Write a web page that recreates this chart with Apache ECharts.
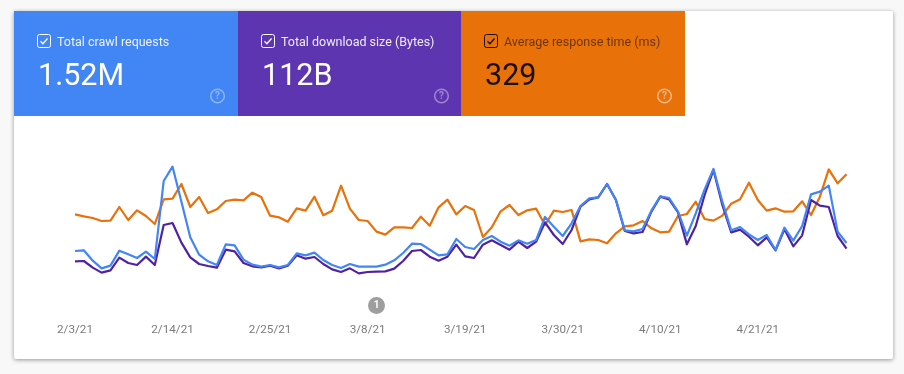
<!DOCTYPE html>
<html><head><meta charset="utf-8">
<style>html,body{margin:0;padding:0;background:#f8f8f8}#c{width:904px;height:374px}</style>
<script src="https://cdn.jsdelivr.net/npm/echarts@6/dist/echarts.min.js"></script>
</head><body><div id="c"></div>
<script>
// Relative levels (the reference shows no value axis).
const dates = ['2/3/21','2/4/21','2/5/21','2/6/21','2/7/21','2/8/21','2/9/21','2/10/21','2/11/21','2/12/21','2/13/21','2/14/21','2/15/21','2/16/21','2/17/21','2/18/21','2/19/21','2/20/21','2/21/21','2/22/21','2/23/21','2/24/21','2/25/21','2/26/21','2/27/21','2/28/21','3/1/21','3/2/21','3/3/21','3/4/21','3/5/21','3/6/21','3/7/21','3/8/21','3/9/21','3/10/21','3/11/21','3/12/21','3/13/21','3/14/21','3/15/21','3/16/21','3/17/21','3/18/21','3/19/21','3/20/21','3/21/21','3/22/21','3/23/21','3/24/21','3/25/21','3/26/21','3/27/21','3/28/21','3/29/21','3/30/21','3/31/21','4/1/21','4/2/21','4/3/21','4/4/21','4/5/21','4/6/21','4/7/21','4/8/21','4/9/21','4/10/21','4/11/21','4/12/21','4/13/21','4/14/21','4/15/21','4/16/21','4/17/21','4/18/21','4/19/21','4/20/21','4/21/21','4/22/21','4/23/21','4/24/21','4/25/21','4/26/21','4/27/21','4/28/21','4/29/21','4/30/21','5/1/21'];
const responseTime = [227,221,216,207,208,249,210,239,222,198,272,274,318,249,279,231,242,267,271,269,292,279,223,218,205,245,238,280,224,238,313,244,210,207,175,166,188,188,186,220,193,248,271,227,252,240,159,188,236,255,225,239,244,195,238,234,240,146,152,150,140,170,191,194,207,185,173,175,222,228,265,213,208,223,259,272,322,270,238,245,235,236,266,225,280,362,320,347];
const crawlRequests = [117,119,88,65,73,118,107,96,115,93,327,370,265,158,106,86,75,137,134,91,76,70,75,68,75,110,104,112,90,75,66,78,70,70,70,76,89,111,139,138,121,104,107,153,129,123,150,162,145,133,149,139,150,219,190,162,200,252,275,278,318,270,179,176,183,238,281,276,235,163,230,302,363,265,179,189,167,150,165,120,187,148,192,287,295,313,175,141];
const downloadSize = [86,87,67,52,59,97,81,75,100,75,195,201,142,98,78,72,67,121,116,81,71,68,73,65,73,104,94,99,78,62,54,65,50,54,55,56,64,87,117,120,100,88,100,136,101,96,136,149,135,121,145,126,145,203,165,138,180,250,272,278,318,270,177,170,174,235,280,272,233,137,192,285,360,255,173,181,160,134,158,119,182,131,164,270,253,249,162,124];
const annotationDate = '3/9/21';
const annotationLabel = '1';
const tileTitles = ['Total crawl requests','Total download size (Bytes)','Average response time (ms)'];
const tileValues = ['1.52M','112B','329'];

const FONT = 'Roboto';
const tiles = [
  {x:14, w:224, fill:'#4285f4', fg:'#ffffff', title:'rgba(255,255,255,0.9)', icon:'rgba(255,255,255,0.4)'},
  {x:238,w:223, fill:'#5e35b1', fg:'#ffffff', title:'rgba(255,255,255,0.9)', icon:'rgba(255,255,255,0.4)'},
  {x:461,w:224, fill:'#e8710a', fg:'#1a1006', title:'rgba(0,0,0,0.55)', icon:'rgba(255,255,255,0.5)'}
];
const graphic = [{type:'rect',z:0,shape:{x:14,y:11,width:879,height:348,r:2},
  style:{fill:'#fff',shadowBlur:4,shadowOffsetY:1,shadowColor:'rgba(0,0,0,0.4)'}}];
tiles.forEach((t,i)=>{
  const bx=t.x+23.5, by=34.5;
  graphic.push(
    {type:'rect',z:1,shape:{x:t.x,y:11,width:t.w,height:105},style:{fill:t.fill}},
    {type:'rect',z:2,shape:{x:bx,y:by,width:13,height:13,r:2},style:{fill:'none',stroke:t.fg,lineWidth:1}},
    {type:'polyline',z:2,shape:{points:[[bx+3,by+6.8],[bx+5.4,by+9.2],[bx+10,by+4]]},style:{fill:'none',stroke:t.fg,lineWidth:1.3}},
    {type:'text',z:2,style:{x:t.x+43,y:42.5,text:tileTitles[i],fill:t.title,font:'12.5px '+FONT,verticalAlign:'middle'}},
    {type:'text',z:2,style:{x:t.x+24,y:77.5,text:tileValues[i],fill:t.fg,font:'30.5px '+FONT,verticalAlign:'middle'}},
    {type:'circle',z:2,shape:{cx:t.x+203.5,cy:96,r:6.8},style:{fill:'none',stroke:t.icon,lineWidth:1.5}},
    {type:'text',z:2,style:{x:t.x+203.5,y:96.5,text:'?',fill:t.icon,font:'bold 10px '+FONT,align:'center',verticalAlign:'middle'}}
  );
});
const line = (name,data,color)=>({name,type:'line',data,symbol:'none',smooth:false,animation:false,
  lineStyle:{color,width:2.2,join:'round'},itemStyle:{color}});
const chart = echarts.init(document.getElementById('c'));
chart.setOption({
  animation:false,
  backgroundColor:'#f8f8f8',
  graphic:{elements:graphic},
  grid:[{left:75,right:57.5,top:150,height:140},{left:75,right:57.5,top:296.5,height:18}],
  xAxis:[
    {type:'category',data:dates,boundaryGap:false,axisLine:{show:false},axisTick:{show:false},splitLine:{show:false},
     axisLabel:{interval:10,margin:34,color:'#7b7b7b',fontFamily:FONT,fontSize:11.7,hideOverlap:false}},
    {type:'category',gridIndex:1,data:dates,boundaryGap:false,show:false}
  ],
  yAxis:[{type:'value',min:0,max:420,show:false},{type:'value',gridIndex:1,min:0,max:1,show:false}],
  series:[
    line(tileTitles[2],responseTime,'#e8710a'),
    line(tileTitles[1],downloadSize,'#4f22a5'),
    line(tileTitles[0],crawlRequests,'#4285f4'),
    {type:'scatter',name:'Annotation',xAxisIndex:1,yAxisIndex:1,symbol:'circle',symbolSize:17,silent:true,
     itemStyle:{color:'#9e9e9e',opacity:1},
     label:{show:true,position:'inside',formatter:annotationLabel,color:'#fff',fontFamily:FONT,fontSize:10,fontWeight:'bold'},
     data:[[annotationDate,0.5]]}
  ]
});
</script></body></html>
